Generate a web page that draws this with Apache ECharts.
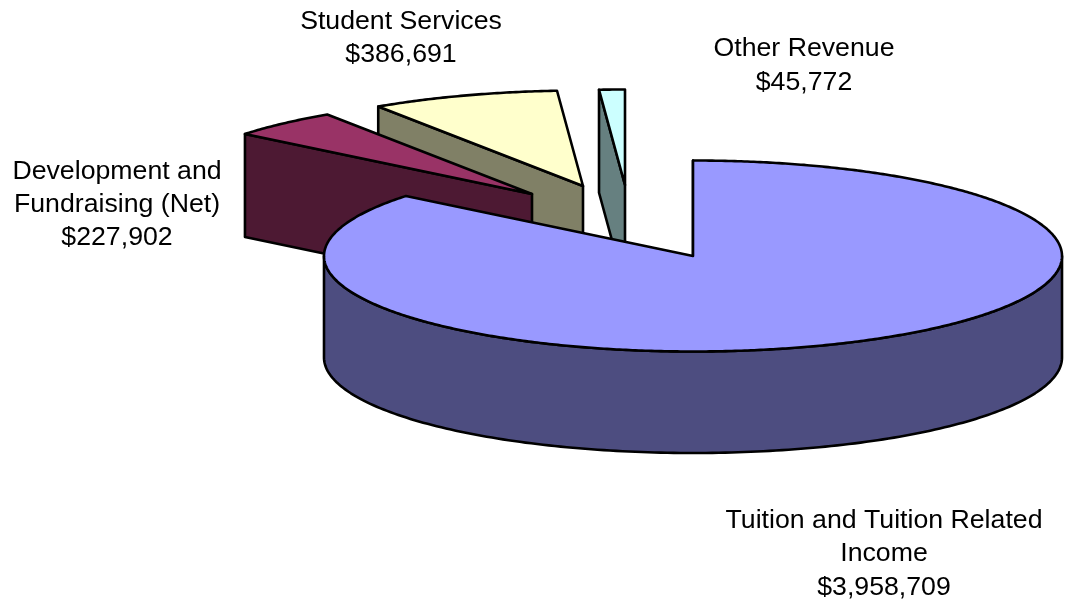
<!DOCTYPE html>
<html><head><meta charset="utf-8">
<style>html,body{margin:0;padding:0;background:#fff}#c{width:1071px;height:600px}</style>
<script src="https://cdn.jsdelivr.net/npm/echarts@6/dist/echarts.min.js"></script>
</head><body><div id="c"></div>
<script>
// Data (clockwise from 12 o'clock)
var categories = ['Tuition and Tuition Related\nIncome', 'Development and\nFundraising (Net)', 'Student Services', 'Other Revenue'];
var values = [3958709, 227902, 386691, 45772];
// Styling and layout
var topColors = ['#9999FF', '#993366', '#FFFFCC', '#CCFFFF'];
var sideColors = ['#4D4D80', '#4D1933', '#808066', '#668080'];
var centerX = 693, centerY = 256, radiusX = 369, radiusY = 95.5;
var explodeX = [0, -161, -110, -68];
var explodeY = [0, -62, -70, -71];
var depths = [101.5, 103, 103, 103];
var perspectiveNudge = [0, 0.4, 0, -0.47]; // degrees, view-warp of each slice boundary
var labelX = [884, 117, 401, 804];
var labelY = [554, 204.5, 38, 65.5];
var FONT = '26.7px "Liberation Sans", Arial, sans-serif';
var total = values.reduce(function (a, b) { return a + b; }, 0);
var starts = [], acc = 0;
values.forEach(function (v, i) { starts.push(acc + perspectiveNudge[i]); acc += v / total * 360; });
starts.push(360);

function pt(cx, cy, deg) {
  var r = deg * Math.PI / 180;
  return [cx + radiusX * Math.sin(r), cy - radiusY * Math.cos(r)];
}
function money(v) { return '$' + String(v).replace(/\B(?=(\d{3})+$)/g, ','); }

function renderItem(params, api) {
  var i = api.value(0);
  var start = starts[i], end = starts[i + 1];
  var cx = centerX + explodeX[i], cy = centerY + explodeY[i], d = depths[i];
  var line = { stroke: '#000', lineWidth: 2.6, lineJoin: 'round' };
  var children = [];
  function poly(points, fill) {
    children.push({ type: 'polygon', shape: { points: points }, style: Object.assign({ fill: fill }, line) });
  }
  // cut face at the start edge of the slice
  var e = pt(cx, cy, start);
  poly([e, [cx, cy], [cx, cy + d], [e[0], e[1] + d]], sideColors[i]);
  // outer wall, front half only
  var a0 = Math.max(start, 90), a1 = Math.min(end, 270);
  if (a1 > a0) {
    var upper = [], lower = [];
    for (var w = 0; w <= 180; w++) {
      var p = pt(cx, cy, a0 + (a1 - a0) * w / 180);
      upper.push(p); lower.unshift([p[0], p[1] + d]);
    }
    poly(upper.concat(lower), sideColors[i]);
  }
  // top face
  var top = [[cx, cy]], n = Math.max(12, Math.round(end - start) * 2);
  for (var k = 0; k <= n; k++) top.push(pt(cx, cy, start + (end - start) * k / n));
  poly(top, topColors[i]);
  children.push({
    type: 'text', z2: 100,
    style: {
      text: categories[i] + '\n' + money(values[i]),
      x: labelX[i], y: labelY[i], align: 'center', verticalAlign: 'middle',
      font: FONT, lineHeight: 33.3, fill: '#000'
    }
  });
  return { type: 'group', children: children };
}

// back-to-front drawing order
var order = [3, 2, 1, 0];
var chart = echarts.init(document.getElementById('c'));
chart.setOption({
  animation: false,
  backgroundColor: '#fff',
  series: [{
    type: 'custom',
    coordinateSystem: 'none',
    renderItem: renderItem,
    encode: { value: [1] },
    data: order.map(function (i) { return [i, values[i]]; })
  }]
});
</script></body></html>
